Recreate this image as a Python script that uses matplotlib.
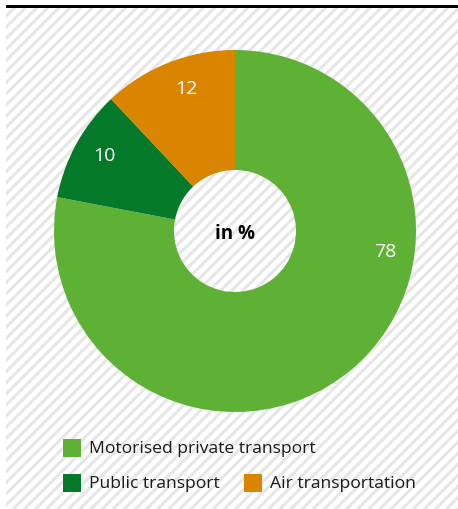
import numpy as np
import matplotlib
matplotlib.use('Agg')
import matplotlib.pyplot as plt
from matplotlib.patches import Rectangle

# data
categories = ['Motorised private transport', 'Public transport', 'Air transportation']
shares = [78, 10, 12]
colors = ['#5eb135', '#04792a', '#d98500']

W, H = 458, 510
plt.rcParams['font.family'] = ['Open Sans', 'DejaVu Sans']
plt.rcParams['hatch.linewidth'] = 2.2
plt.rcParams['hatch.color'] = '#e6e6e6'

fig = plt.figure(figsize=(W / 100, H / 100), dpi=100)
fig.patch.set_facecolor('white')

# striped background + top rule
fig.patches.append(Rectangle((6 / W, 0), 1 - 6 / W, 1 - 9 / H, transform=fig.transFigure,
                             facecolor='white', edgecolor='#e6e6e6', hatch='///', lw=0, zorder=-5))
fig.patches.append(Rectangle((6 / W, 1 - 9 / H), 1 - 6 / W, 3 / H, transform=fig.transFigure,
                             facecolor='black', lw=0, zorder=-4))

# donut
cx, cy, r = 235, 232, 181
ax = fig.add_axes([(cx - r) / W, (H - cy - r) / H, 2 * r / W, 2 * r / H])
ax.axis('off')
wedges, _ = ax.pie(shares, colors=colors, startangle=90, counterclock=False, radius=1,
                   wedgeprops=dict(width=1 - 61 / 181, edgecolor='none'))
ax.set_xlim(-1, 1)
ax.set_ylim(-1, 1)

# value labels (angles in degrees where the labels sit)
label_angles = [-7.7, 149.7, 108.7]
for a, v in zip(label_angles, shares):
    ang = np.deg2rad(a)
    rr = 0.835
    ax.text(rr * np.cos(ang), rr * np.sin(ang), str(v), color='white', fontsize=14,
            ha='center', va='center')
ax.text(0, -0.01, 'in %', fontsize=13.5, fontweight='bold', ha='center', va='center')

# legend
legend_pos = [(63, 440), (63, 475), (244, 475)]
for (lx, ly), c, lab in zip(legend_pos, colors, categories):
    fig.patches.append(Rectangle((lx / W, 1 - (ly + 18) / H), 18 / W, 18 / H,
                                 transform=fig.transFigure, facecolor=c, lw=0))
    fig.text((lx + 26) / W, 1 - (ly + 9.5) / H, lab, fontsize=12.6, color='#1a1a1a',
             ha='left', va='center')

fig.savefig('out.png', dpi=100)
